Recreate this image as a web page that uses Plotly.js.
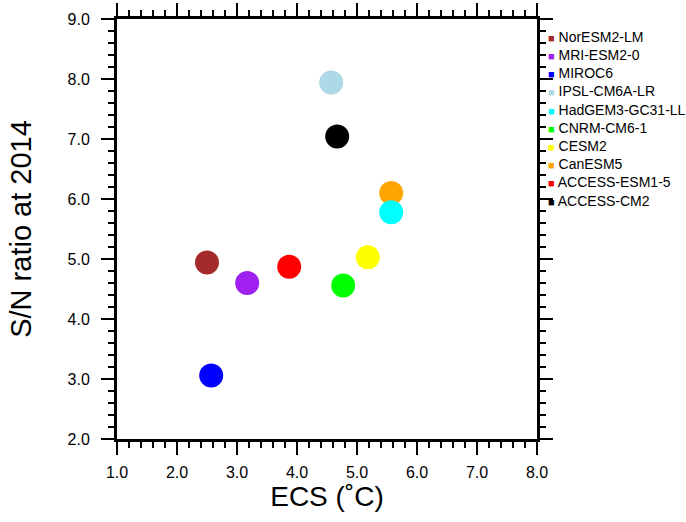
<!DOCTYPE html>
<html>
<head>
<meta charset="utf-8">
<script src="https://cdn.plot.ly/plotly-3.0.1.min.js"></script>
<style>html,body{margin:0;padding:0;background:#fff;}#chart{width:686px;height:522px;}</style>
</head>
<body>
<div id="chart"></div>
<script>
// Models in legend order (top to bottom)
const models = ["NorESM2-LM","MRI-ESM2-0","MIROC6","IPSL-CM6A-LR","HadGEM3-GC31-LL","CNRM-CM6-1","CESM2","CanESM5","ACCESS-ESM1-5","ACCESS-CM2"];
const ecs = [2.50, 3.17, 2.57, 4.57, 5.57, 4.77, 5.18, 5.57, 3.87, 4.67];
const snRatio = [4.94, 4.60, 3.06, 7.94, 5.78, 4.56, 5.03, 6.10, 4.87, 7.04];
const colors = ["#A52A2A","#A020F0","#0000FF","#ADD8E6","#00FFFF","#00FF00","#FFFF00","#FFA500","#FF0000","#000000"];
const xTicks = [1,2,3,4,5,6,7,8];
const yTicks = [2,3,4,5,6,7,8,9];

const font = "Liberation Sans, Arial, Helvetica, sans-serif";
const traces = [];
// drawn in reverse so that earlier-listed models sit on top
for (let i = models.length - 1; i >= 0; i--) {
  traces.push({
    type: "scatter", mode: "markers",
    x: [ecs[i]], y: [snRatio[i]], name: models[i],
    marker: {color: colors[i], size: 24, line: {width: 0}},
    showlegend: false, hoverinfo: "x+y+name"
  });
}

const mL = 117, mR = 149, mT = 19, mB = 83;
const plotH = 522 - mT - mB;
const plotW = 686 - mL - mR;
const annotations = models.map((m, i) => {
  const py = 36.7 + 18.2 * i;
  return {
    xref: "paper", yref: "paper",
    x: (546 - mL) / plotW, y: (522 - mB - py) / plotH,
    xanchor: "left", yanchor: "middle", showarrow: false,
    text: '<span style="color:' + colors[i] + ';font-size:11px">■</span> ' + m,
    font: {family: font, size: 14, color: "#000"}
  };
});

const axisCommon = {
  showgrid: false, zeroline: false, showline: true, linecolor: "#000", linewidth: 3,
  mirror: "ticks", ticks: "outside", ticklen: 13, tickwidth: 2.5, tickcolor: "#000",
  tickformat: ".1f", tickfont: {family: font, size: 16, color: "#000"},
  minor: {dtick: 0.2, ticks: "outside", ticklen: 6, tickwidth: 2, tickcolor: "#000", showgrid: false}
};

const layout = {
  width: 686, height: 522,
  margin: {l: mL, r: mR, t: mT, b: mB},
  paper_bgcolor: "#fff", plot_bgcolor: "#fff",
  showlegend: false,
  xaxis: Object.assign({}, axisCommon, {
    range: [1, 8], tickvals: xTicks, ticklabelstandoff: 4,
    title: {text: "ECS (˚C)", font: {family: font, size: 28, color: "#000"}, standoff: 7}
  }),
  yaxis: Object.assign({}, axisCommon, {
    range: [2, 9], tickvals: yTicks, ticklabelstandoff: 8,
    title: {text: "S/N ratio at 2014", font: {family: font, size: 29, color: "#000"}, standoff: 28}
  }),
  annotations: annotations
};

Plotly.newPlot("chart", traces, layout, {displayModeBar: false, staticPlot: true});
</script>
</body>
</html>
